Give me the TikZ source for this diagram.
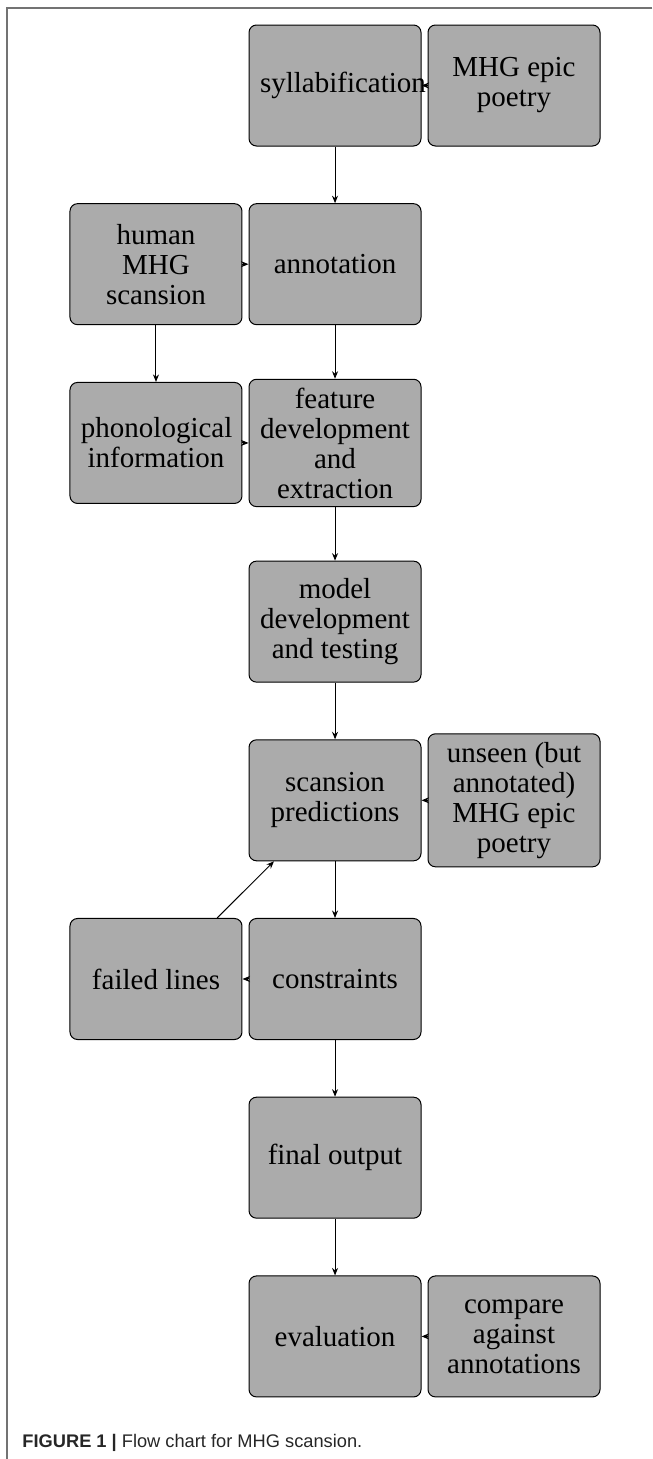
\documentclass[tikz,border=0pt]{standalone}
\usepackage{fontspec}
\setmainfont{Liberation Serif}
\newfontfamily\captionfont{Liberation Sans}
\usetikzlibrary{arrows.meta,positioning}
\hyphenpenalty=10000

\begin{document}
\begin{tikzpicture}
    \tikzset{Block/.style={rectangle, rounded corners=3pt, draw=black, fill=black!33, minimum width=68.8pt, minimum height=48.4pt, text width=60pt, align=flush center, font=\fontsize{11.6}{12}\selectfont}}
    \tikzset{Frame/.style={line width=0.5pt, draw=black!55}}

    \useasboundingbox (0,0) rectangle (260.8pt,-583.6pt);
    \draw[Frame] (9.17,-0.112) -- (0.098,-0.112) -- (0.098,-20.52);

    % first column: inputs on the left
    \node[Block](Human) at (2.193,-3.714) {human MHG scansion};
    \node[Block](Phon) at (2.193,-6.227) {phonological information};
    \node[Block](Failed) at (2.193,-13.763) {failed lines};

    % main column
    \node[Block](Syllab) at (4.710,-1.202) {syllabification};
    \node[Block](Annot) at (4.710,-3.714) {annotation};
    \node[Block](Feat) at (4.710,-6.227) {feature development and extraction};
    \node[Block](Model) at (4.710,-8.739) {model development and testing};
    \node[Block](Scan) at (4.710,-11.251) {scansion predictions};
    \node[Block](Constr) at (4.710,-13.763) {constraints};
    \node[Block](Final) at (4.710,-16.275) {final output};
    \node[Block](Eval) at (4.710,-18.788) {evaluation};

    % right column
    \node[Block](Epic) at (7.226,-1.202) {MHG epic poetry};
    \node[Block](Unseen) at (7.226,-11.251) {unseen (but annotated) MHG epic poetry};
    \node[Block](Compare) at (7.226,-18.788) {compare against annotations};

    \draw[-{Stealth[length=3pt,width=2.4pt]}]
        (Epic) edge (Syllab)
        (Syllab) edge (Annot)
        (Human) edge (Annot)
        (Human) edge (Phon)
        (Annot) edge (Feat)
        (Phon) edge (Feat)
        (Feat) edge (Model)
        (Model) edge (Scan)
        (Unseen) edge (Scan)
        (Scan) edge (Constr)
        (Constr) edge (Failed)
        (Failed) edge (Scan)
        (Constr) edge (Final)
        (Final) edge (Eval)
        (Compare) edge (Eval)
    ;

    \node[anchor=base west, inner sep=0pt, text=black!85, font=\captionfont\fontsize{7.3}{9}\selectfont](Caption) at (0.309,-20.356) {\textbf{FIGURE 1 |} Flow chart for MHG scansion.};
\end{tikzpicture}
\end{document}
